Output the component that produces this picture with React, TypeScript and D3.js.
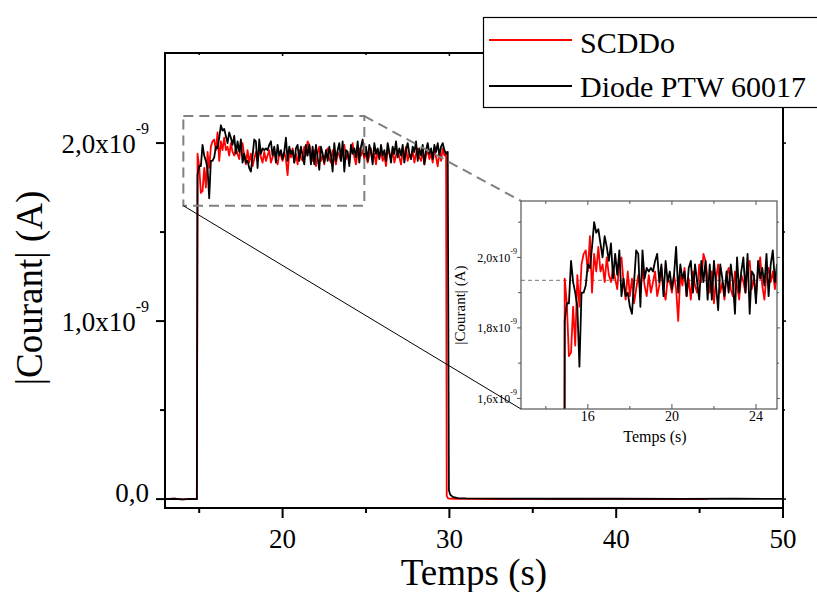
import React from "react";
import * as d3 from "d3";

const W = 817;
const H = 592;

// ---- data (current in units of 1e-9 A, time in s) ----
const SAMPLE_STEP = 0.1;
const PLATEAU_START = 14.9;

const beforeTimes = [12.95, 13.5, 14.0, 14.5, 14.86];
const beforeValues = [0.0, 0.002, -0.001, 0.001, 0.0];

const scddoPlateau = [
  1.94, 1.87, 1.72, 1.73, 1.86, 1.75, 1.95, 1.86, 1.98, 2.01,
  2.02, 1.96, 2.06, 1.90, 2.01, 1.96, 2.03, 1.96, 1.98, 1.93,
  2.00, 1.95, 1.93, 1.97, 1.94, 1.91, 1.99, 2.00, 1.93, 1.88,
  1.96, 1.89, 1.94, 1.87, 1.91, 1.95, 1.90, 1.97, 1.92, 1.89,
  1.95, 1.90, 1.93, 1.96, 1.89, 1.92, 1.97, 1.91, 1.88, 1.94,
  1.93, 1.90, 1.95, 1.91, 1.82, 1.95, 1.92, 1.97, 1.89, 1.94,
  1.88, 1.96, 1.92, 1.90, 1.98, 1.93, 2.01, 1.99, 1.94, 1.90,
  1.96, 1.87, 1.94, 1.98, 1.90, 1.93, 1.88, 1.95, 1.97, 1.91,
  1.89, 1.96, 1.92, 1.88, 1.95, 1.93, 1.90, 1.97, 1.99, 1.91,
  1.94, 1.89, 1.96, 2.00, 1.92, 1.88, 1.95, 1.97, 1.93, 1.96,
  1.91, 1.95, 1.89, 1.93, 1.97, 1.90, 1.94, 1.88, 1.96, 1.92,
  1.95, 1.90, 1.93, 1.87, 1.96, 1.94, 1.91, 1.97, 1.89, 1.93,
  1.96, 1.92, 1.88, 1.95, 1.93, 1.98, 1.90, 1.94, 1.91, 1.96,
  1.89, 1.94, 1.97, 1.92, 1.90, 1.95, 1.88, 1.93, 1.96, 1.91,
  1.94, 1.89, 1.96, 1.92, 1.87, 1.95, 1.90, 1.97, 1.93, 1.95,
];

const diodePlateau = [
  1.82, 1.87, 1.87, 1.99, 1.93, 1.90, 1.86, 1.69, 1.90, 1.90,
  1.92, 1.98, 1.97, 2.03, 2.10, 2.07, 2.08, 2.04, 2.00, 2.06,
  2.03, 1.99, 2.04, 1.94, 2.01, 1.95, 2.02, 1.89, 1.94, 1.89,
  1.90, 1.86, 1.84, 1.93, 2.02, 2.01, 1.86, 2.02, 1.94, 1.97,
  1.96, 1.97, 1.96, 1.99, 2.01, 1.93, 1.98, 1.89, 1.99, 1.93,
  1.96, 1.91, 1.95, 2.03, 1.90, 1.98, 1.94, 1.96, 1.89, 1.97,
  1.99, 1.90, 1.98, 1.93, 1.88, 1.99, 1.93, 1.99, 1.88, 1.98,
  1.88, 1.99, 1.92, 1.85, 1.98, 1.94, 1.89, 1.96, 1.90, 1.98,
  1.93, 1.84, 2.00, 1.90, 1.96, 2.00, 1.90, 2.01, 1.84, 1.96,
  1.95, 1.87, 1.99, 1.94, 1.97, 1.92, 2.01, 1.89, 1.98, 2.02,
  1.93, 1.98, 1.90, 1.99, 1.95, 1.88, 2.00, 1.94, 1.97, 1.91,
  1.99, 1.93, 1.96, 1.90, 2.00, 1.95, 1.89, 1.98, 1.94, 2.01,
  1.92, 1.97, 1.93, 1.99, 1.89, 1.96, 2.00, 1.94, 1.91, 1.98,
  1.95, 2.01, 1.90, 1.97, 1.93, 1.99, 1.88, 1.96, 2.00, 1.94,
  1.97, 1.91, 1.99, 1.95, 2.00, 1.93, 1.98, 2.00, 1.96, 1.94,
  1.95,
];

const scddoTailTimes = [29.84, 29.9, 30.0, 30.3, 31, 33, 35, 37, 40, 43, 45.5];
const scddoTail = [0.02, 0.006, 0.003, 0.002, 0.001, 0.0, 0.001, 0.0, 0.001, 0.0, 0.0];

const diodeTailTimes = [29.97, 30.05, 30.2, 30.5, 31, 33, 36, 40, 44, 47, 50];
const diodeTail = [0.05, 0.025, 0.012, 0.006, 0.004, 0.003, 0.002, 0.002, 0.001, 0.002, 0.001];

const seriesNames = ["SCDDo", "Diode PTW 60017"];
const seriesColors = ["#ff0000", "#000000"];

const xMajorTicks = [20, 30, 40, 50];
const xMinorTicks = [15, 25, 35, 45];
const yMajorTicks = [0, 1, 2];
const yMinorTicks = [0.5, 1.5];
const yTickMantissa = ["0,0", "1,0x10", "2,0x10"];
const yTickExp = ["", "-9", "-9"];

const insetXMajor = [16, 20, 24];
const insetXMinor = [14, 18, 22];
const insetYMajor = [1.6, 1.8, 2.0];
const insetYMinor = [1.7, 1.9, 2.1];
const insetYMantissa = ["1,6x10", "1,8x10", "2,0x10"];
const insetRefLevel = 1.935;

const zoomBoxX = [14.05, 24.9];
const zoomBoxY = [1.648, 2.152];

// ---- build points ----
type P = { t: number; v: number };
function buildSeries(plateau: number[], tailT: number[], tailV: number[]): P[] {
  const pts: P[] = [];
  beforeTimes.forEach((t, i) => pts.push({ t, v: beforeValues[i] }));
  plateau.forEach((v, i) => pts.push({ t: PLATEAU_START + i * SAMPLE_STEP, v }));
  tailT.forEach((t, i) => pts.push({ t, v: tailV[i] }));
  return pts;
}
const scddo = buildSeries(scddoPlateau, scddoTailTimes, scddoTail);
const diode = buildSeries(diodePlateau, diodeTailTimes, diodeTail);
const allSeries = [scddo, diode];

const FONT = "'Liberation Serif', 'Times New Roman', serif";

export default function App() {
  const x = d3.scaleLinear().domain([12.95, 50]).range([165, 783]);
  const y = d3.scaleLinear().domain([-0.05, 2.506]).range([508, 53]);
  const xi = d3.scaleLinear().domain([12.82, 25]).range([521, 777]);
  const yi = d3.scaleLinear().domain([1.57, 2.16]).range([409, 201]);

  const [x0, x1] = x.range();
  const [yb, yt] = y.range();
  const [ix0, ix1] = xi.range();
  const [iyb, iyt] = yi.range();

  const mainLine = d3.line<P>().x((d) => x(d.t)).y((d) => y(d.v));
  const insetLine = d3.line<P>().x((d) => xi(d.t)).y((d) => yi(d.v));

  const bx0 = x(zoomBoxX[0]);
  const bx1 = x(zoomBoxX[1]);
  const by0 = y(zoomBoxY[1]);
  const by1 = y(zoomBoxY[0]);

  return (
    <div style={{ position: "absolute", left: 0, top: 0 }}>
      <svg width={W} height={H} style={{ display: "block", background: "#fff" }} fontFamily={FONT}>
        <defs>
          <clipPath id="mainClip">
            <rect x={x0} y={yt} width={x1 - x0} height={yb - yt} />
          </clipPath>
          <clipPath id="insetClip">
            <rect x={ix0} y={iyt} width={ix1 - ix0} height={iyb - iyt} />
          </clipPath>
        </defs>
        <rect x={0} y={0} width={W} height={H} fill="#fff" />

        {/* main data */}
        <g clipPath="url(#mainClip)">
          {allSeries.map((s, i) => (
            <path key={i} d={mainLine(s) || ""} fill="none" stroke={seriesColors[i]} strokeWidth={1.8} strokeLinejoin="round" />
          ))}
        </g>

        {/* main frame */}
        <rect x={x0} y={yt} width={x1 - x0} height={yb - yt} fill="none" stroke="#000" strokeWidth={2} />
        {xMajorTicks.map((t) => (
          <g key={"xM" + t}>
            <line x1={x(t)} x2={x(t)} y1={yb} y2={yb + 10} stroke="#000" strokeWidth={2} />
            <line x1={x(t)} x2={x(t)} y1={yt} y2={yt + 3} stroke="#000" strokeWidth={1.5} />
            <text x={x(t)} y={548} fontSize={27} textAnchor="middle">{t}</text>
          </g>
        ))}
        {xMinorTicks.map((t) => (
          <g key={"xm" + t}>
            <line x1={x(t)} x2={x(t)} y1={yb} y2={yb + 5} stroke="#000" strokeWidth={2} />
            <line x1={x(t)} x2={x(t)} y1={yt} y2={yt + 2} stroke="#000" strokeWidth={1.5} />
          </g>
        ))}
        {yMajorTicks.map((v, i) => (
          <g key={"yM" + v}>
            <line x1={x0 - 9} x2={x0} y1={y(v)} y2={y(v)} stroke="#000" strokeWidth={2} />
            <line x1={x1} x2={x1 + 3} y1={y(v)} y2={y(v)} stroke="#000" strokeWidth={1.5} />
            <text x={149} y={y(v) + (v === 0 ? 3 : 10)} fontSize={27} textAnchor="end">
              {yTickMantissa[i]}
              {yTickExp[i] && (
                <tspan dy={-19} fontSize={16}>{yTickExp[i]}</tspan>
              )}
            </text>
          </g>
        ))}
        {yMinorTicks.map((v) => (
          <g key={"ym" + v}>
            <line x1={x0 - 5} x2={x0} y1={y(v)} y2={y(v)} stroke="#000" strokeWidth={2} />
            <line x1={x1} x2={x1 + 2} y1={y(v)} y2={y(v)} stroke="#000" strokeWidth={1.5} />
          </g>
        ))}

        {/* axis titles */}
        <text x={474} y={585} fontSize={37} textAnchor="middle">Temps (s)</text>
        <text transform="translate(42,288) rotate(-90)" fontSize={37} textAnchor="middle">|Courant| (A)</text>

        {/* zoom box and connectors */}
        <rect x={bx0} y={by0} width={bx1 - bx0} height={by1 - by0} fill="none" stroke="#808080" strokeWidth={2} strokeDasharray="10,6" />
        <line x1={bx1} y1={by0} x2={ix0} y2={iyt} stroke="#808080" strokeWidth={2} strokeDasharray="10,6" />
        <line x1={bx0} y1={by1} x2={ix0} y2={iyb} stroke="#000" strokeWidth={1} />

        {/* inset */}
        <rect x={ix0} y={iyt} width={ix1 - ix0} height={iyb - iyt} fill="#fff" />
        <line x1={ix0} x2={ix1} y1={yi(insetRefLevel)} y2={yi(insetRefLevel)} stroke="#555" strokeWidth={0.8} strokeDasharray="4,3" />
        <g clipPath="url(#insetClip)">
          {allSeries.map((s, i) => (
            <path key={i} d={insetLine(s) || ""} fill="none" stroke={seriesColors[i]} strokeWidth={1.8} strokeLinejoin="round" />
          ))}
        </g>
        <rect x={ix0} y={iyt} width={ix1 - ix0} height={iyb - iyt} fill="none" stroke="#555" strokeWidth={1.2} />
        {insetXMajor.map((t) => (
          <g key={"ixM" + t}>
            <line x1={xi(t)} x2={xi(t)} y1={iyb} y2={iyb - 5} stroke="#555" strokeWidth={1} />
            <line x1={xi(t)} x2={xi(t)} y1={iyt} y2={iyt + 4} stroke="#555" strokeWidth={1} />
            <text x={xi(t)} y={421} fontSize={14} textAnchor="middle">{t}</text>
          </g>
        ))}
        {insetXMinor.map((t) => (
          <g key={"ixm" + t}>
            <line x1={xi(t)} x2={xi(t)} y1={iyb} y2={iyb - 3} stroke="#555" strokeWidth={1} />
            <line x1={xi(t)} x2={xi(t)} y1={iyt} y2={iyt + 3} stroke="#555" strokeWidth={1} />
          </g>
        ))}
        {insetYMajor.map((v, i) => (
          <g key={"iyM" + v}>
            <line x1={ix0 - 4} x2={ix0} y1={yi(v)} y2={yi(v)} stroke="#555" strokeWidth={1} />
            <line x1={ix1} x2={ix1 + 3} y1={yi(v)} y2={yi(v)} stroke="#555" strokeWidth={1} />
            <text x={517} y={yi(v) + 4.5} fontSize={12} textAnchor="end">
              {insetYMantissa[i]}
              <tspan dy={-8} fontSize={8}>-9</tspan>
            </text>
          </g>
        ))}
        {insetYMinor.map((v) => (
          <g key={"iym" + v}>
            <line x1={ix0 - 3} x2={ix0} y1={yi(v)} y2={yi(v)} stroke="#555" strokeWidth={1} />
            <line x1={ix1} x2={ix1 + 2} y1={yi(v)} y2={yi(v)} stroke="#555" strokeWidth={1} />
          </g>
        ))}
        <text x={655} y={442} fontSize={16} textAnchor="middle">Temps (s)</text>
        <text transform="translate(465,305) rotate(-90)" fontSize={15} textAnchor="middle">|Courant| (A)</text>

        {/* legend */}
        <rect x={483.5} y={17.5} width={345} height={90} fill="#fff" stroke="#000" strokeWidth={1.2} />
        {seriesNames.map((name, i) => (
          <g key={name}>
            <line x1={489} x2={572} y1={40 + i * 46} y2={40 + i * 46} stroke={seriesColors[i]} strokeWidth={1.8} />
            <text x={580} y={53 + i * 44} fontSize={30}>{name}</text>
          </g>
        ))}
      </svg>
    </div>
  );
}
